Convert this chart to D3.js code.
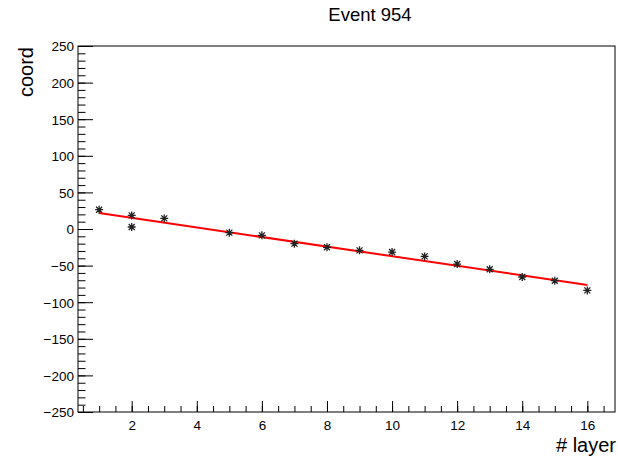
<!DOCTYPE html>
<html>
<head>
<meta charset="utf-8">
<script src="https://cdn.jsdelivr.net/npm/d3@7"></script>
<style>
  body { margin: 0; background: #fff; }
  text { font-family: "Liberation Sans", Arial, sans-serif; fill: #000; }
</style>
</head>
<body>
<div id="vis-holder"></div>
<script>
// Data
const layers = [1, 2, 2, 3, 5, 6, 7, 8, 9, 10, 11, 12, 13, 14, 15, 16];
const coords = [26.4, 18.6, 2.7, 14.5, -5, -8.7, -20, -25, -29.2, -31.5, -37.4, -47.9, -55.1, -65.6, -70.6, -83.9];

// Fitted line end points
const fitX = [1, 16];
const fitY = [21.8, -76.5];

const xMajor = [2, 4, 6, 8, 10, 12, 14, 16];
const yMajor = [-250, -200, -150, -100, -50, 0, 50, 100, 150, 200, 250];

const width = 618;
const height = 462;
const margin = { top: 46, right: 3, bottom: 50, left: 78 };

const svg = d3.select("#vis-holder")
  .append("svg")
  .attr("width", width)
  .attr("height", height);

// Scales
const x = d3.scaleLinear()
  .domain([0.35, 16.85])
  .range([margin.left, width - margin.right]);

const y = d3.scaleLinear()
  .domain([-250, 250])
  .range([height - margin.bottom, margin.top]);

// x axis minor ticks
svg.append("g")
  .attr("transform", `translate(0,${height - margin.bottom})`)
  .call(d3.axisBottom(x).tickValues(d3.range(0.5, 16.8, 0.5)).tickSize(-6).tickFormat(""))
  .call((g) => g.select(".domain").remove());

// x axis major ticks + labels
svg.append("g")
  .attr("transform", `translate(0,${height - margin.bottom})`)
  .call(d3.axisBottom(x).tickValues(xMajor).tickSize(-11).tickPadding(18).tickFormat(d3.format("d")))
  .call((g) => g.select(".domain").remove())
  .call((g) => g.selectAll("text").attr("font-size", "13.5px").attr("dy", "0"));

// y axis minor ticks
svg.append("g")
  .attr("transform", `translate(${margin.left},0)`)
  .call(d3.axisLeft(y).tickValues(d3.range(-250, 251, 10)).tickSize(-7.5).tickFormat(""))
  .call((g) => g.select(".domain").remove());

// y axis major ticks + labels
svg.append("g")
  .attr("transform", `translate(${margin.left},0)`)
  .call(d3.axisLeft(y).tickValues(yMajor).tickSize(-15).tickPadding(4)
    .tickFormat((d) => d < 0 ? "\u2212" + Math.abs(d) : d))
  .call((g) => g.select(".domain").remove())
  .call((g) => g.selectAll("text").attr("font-size", "13.5px").attr("dy", "0.36em"));

svg.selectAll(".tick line").attr("stroke", "#000");

// Frame
svg.append("rect")
  .attr("x", margin.left)
  .attr("y", margin.top)
  .attr("width", width - margin.right - margin.left)
  .attr("height", height - margin.bottom - margin.top)
  .attr("fill", "none")
  .attr("stroke", "#000")
  .attr("stroke-width", 1);

// Fit line
svg.append("line")
  .attr("x1", x(fitX[0]))
  .attr("y1", y(fitY[0]))
  .attr("x2", x(fitX[1]))
  .attr("y2", y(fitY[1]))
  .attr("stroke", "#ff0000")
  .attr("stroke-width", 2);

// Star markers
const r = 4;
const star = `M${-r},0H${r}M0,${-r}V${r}M${-r * 0.75},${-r * 0.75}L${r * 0.75},${r * 0.75}M${-r * 0.75},${r * 0.75}L${r * 0.75},${-r * 0.75}`;
svg.selectAll(".pt")
  .data(layers)
  .enter()
  .append("path")
  .attr("class", "pt")
  .attr("transform", (d, i) => `translate(${x(d)},${y(coords[i])})`)
  .attr("d", star)
  .attr("fill", "none")
  .attr("stroke", "#222")
  .attr("stroke-width", 1.3);

// Title and axis titles
svg.append("text")
  .attr("x", 370)
  .attr("y", 21)
  .attr("text-anchor", "middle")
  .attr("font-size", "18.5px")
  .text("Event 954");

svg.append("text")
  .attr("x", 616)
  .attr("y", 452)
  .attr("text-anchor", "end")
  .attr("font-size", "20px")
  .text("# layer");

svg.append("text")
  .attr("transform", "translate(33,47) rotate(-90)")
  .attr("text-anchor", "end")
  .attr("font-size", "20px")
  .text("coord");
</script>
</body>
</html>
